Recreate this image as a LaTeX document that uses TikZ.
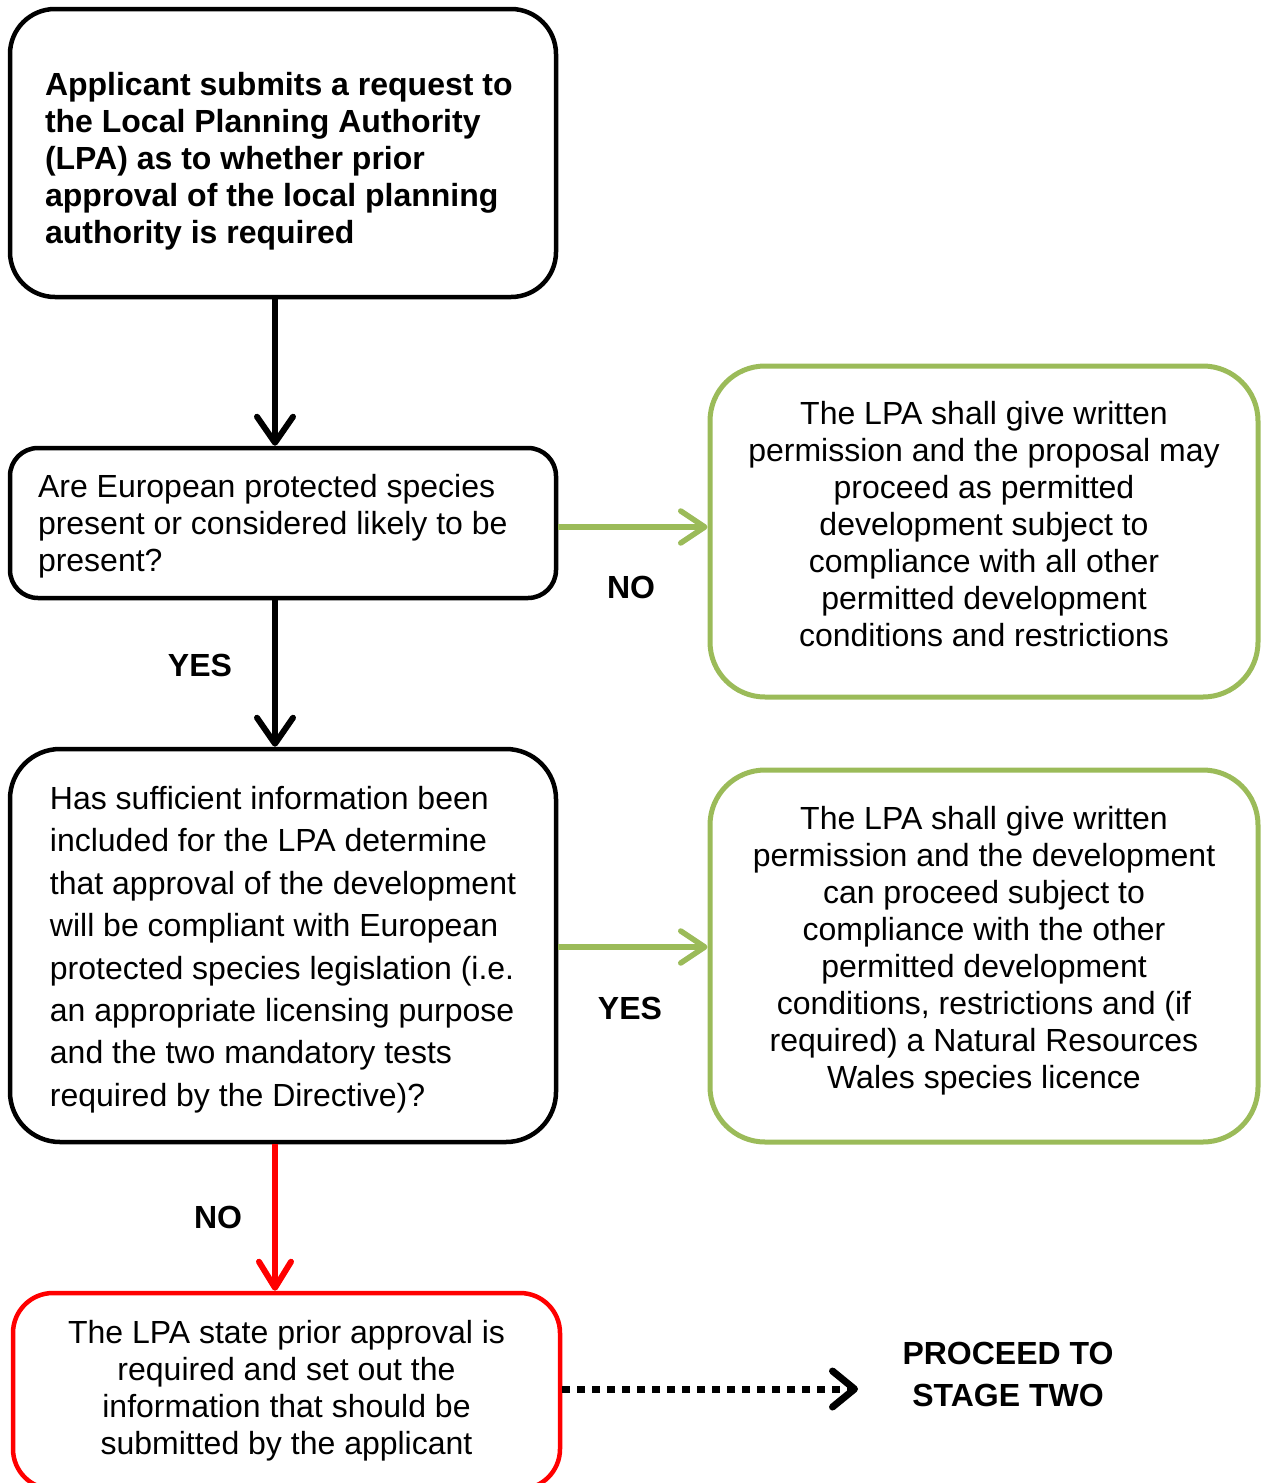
\documentclass[tikz,border=0pt]{standalone}
\usepackage{fontspec}
\setmainfont{Liberation Sans}
\usetikzlibrary{arrows.meta}
\definecolor{pgreen}{HTML}{9BBB59}
\definecolor{pred}{HTML}{FF0000}
\tikzset{
  box/.style={draw, line width=4.5pt, fill=white, inner sep=0pt,
    font=\fontsize{32}{37}\selectfont},
  gbox/.style={box, draw=pgreen, line width=5pt, align=center},
  lbl/.style={font=\fontsize{32}{37}\selectfont\bfseries, inner sep=0pt},
  barrow/.style={line width=6pt, -{Straight Barb[length=26pt,width=36pt,round]}},
  garrow/.style={draw=pgreen, line width=5.5pt, -{Straight Barb[length=24pt,width=32pt,round]}},
  rarrow/.style={draw=pred, line width=6pt, -{Straight Barb[length=26pt,width=32pt,round]}},
  darrow/.style={line width=7pt, dash pattern=on 7.5pt off 7.5pt,
    -{Straight Barb[length=22pt,width=36pt,round]}}
}
\begin{document}
\begin{tikzpicture}[x=1pt,y=-1pt]
\useasboundingbox (0,0) rectangle (1263,1483);
\clip (0,0) rectangle (1263,1483);

\node[box, rounded corners=45pt, minimum width=546pt, minimum height=288pt,
  text width=476pt, align=flush left, font=\fontsize{32}{37}\selectfont\bfseries]
  (b1) at (283,153)
  {\rule{0pt}{39.5pt}Applicant submits a request to\\the Local Planning Authority\\(LPA) as to whether prior\\approval of the local planning\\authority is required};

\node[box, rounded corners=28pt, minimum width=546pt, minimum height=150pt,
  text width=490pt, align=flush left]
  (b2) at (283,523)
  {\rule{0pt}{29.5pt}Are European protected species\\present or considered likely to be\\present?};

\node[gbox, rounded corners=55pt, minimum width=548pt, minimum height=331pt]
  (b3) at (984,531.5)
  {The LPA shall give written\\permission and the proposal may\\proceed as permitted\\development subject to\\compliance with all other\\permitted development\\conditions and restrictions\rule[-16pt]{0pt}{1pt}};

\node[box, rounded corners=50pt, minimum width=546pt, minimum height=393pt,
  align=left, font=\fontsize{32}{42.4}\selectfont]
  (b4) at (283,945.5)
  {\rule{0pt}{31.5pt}Has sufficient information been\\included for the LPA determine\\that approval of the development\\will be compliant with European\\protected species legislation (i.e.\\an appropriate licensing purpose\\and the two mandatory tests\\required by the Directive)?};

\node[gbox, rounded corners=55pt, minimum width=548pt, minimum height=372pt]
  (b5) at (984,956)
  {The LPA shall give written\\permission and the development\\can proceed subject to\\compliance with the other\\permitted development\\conditions, restrictions and (if\\required) a Natural Resources\\Wales species licence\rule[-18pt]{0pt}{1pt}};

\node[box, draw=pred, rounded corners=40pt, minimum width=547pt, minimum height=196pt,
  align=center]
  (b6) at (286.5,1391)
  {The LPA state prior approval is\\required and set out the\\information that should be\\submitted by the applicant};

\node[lbl, align=center, font=\fontsize{32}{42}\selectfont\bfseries] (stage) at (1008,1374) {PROCEED TO\\STAGE TWO};
\coordinate (dend) at (858,1389);

\node[lbl] (no1) at (631,587) {NO};
\node[lbl] (yes1) at (200,665) {YES};
\node[lbl] (yes2) at (630,1008) {YES};
\node[lbl] (no2) at (218,1217) {NO};

\draw[barrow] ([xshift=-8pt]b1.south) -- ([xshift=-8pt]b2.north);
\draw[barrow] ([xshift=-8pt]b2.south) -- ([xshift=-8pt]b4.north);
\draw[garrow] ([yshift=-4pt]b2.east) -- ([yshift=-4pt]b2.east -| b3.west);
\draw[garrow] ([yshift=-1.5pt]b4.east) -- ([yshift=-1.5pt]b4.east -| b5.west);
\draw[rarrow] ([xshift=-8pt]b4.south) -- ([xshift=-11.5pt]b6.north);
\draw[darrow] (b6.east |- dend) -- (dend);
\end{tikzpicture}
\end{document}
